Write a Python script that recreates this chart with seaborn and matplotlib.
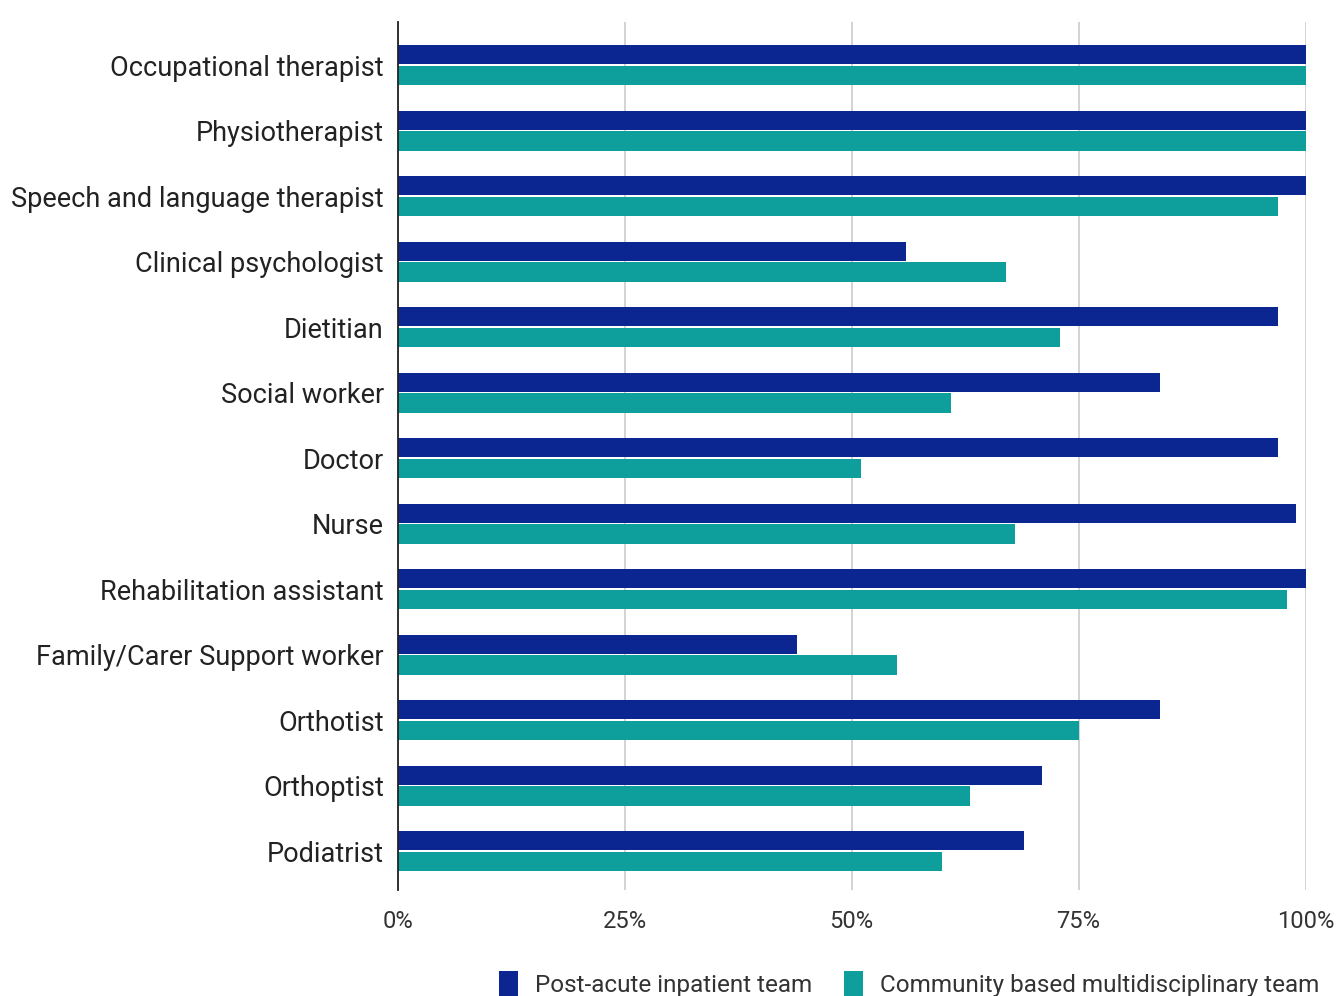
import matplotlib
matplotlib.use("Agg")
import matplotlib.pyplot as plt
import seaborn as sns
import pandas as pd
from matplotlib.ticker import FuncFormatter

roles = ["Occupational therapist", "Physiotherapist", "Speech and language therapist",
         "Clinical psychologist", "Dietitian", "Social worker", "Doctor", "Nurse",
         "Rehabilitation assistant", "Family/Carer Support worker", "Orthotist",
         "Orthoptist", "Podiatrist"]
inpatient = [100, 100, 100, 56, 97, 84, 97, 99, 100, 44, 84, 71, 69]
community = [100, 100, 97, 67, 73, 61, 51, 68, 98, 55, 75, 63, 60]
series = ["Post-acute inpatient team", "Community based multidisciplinary team"]
colors = ["#0b2591", "#0e9e9c"]
xticks = [0, 25, 50, 75, 100]

df = pd.DataFrame({
    "role": roles * 2,
    "value": inpatient + community,
    "team": [series[0]] * len(roles) + [series[1]] * len(roles),
})

sns.set_theme(style="white")
plt.rcParams["font.family"] = ["Roboto", "DejaVu Sans"]

fig = plt.figure(figsize=(13.39, 9.96), dpi=100)
ax = fig.add_axes([0.297, 0.106, 0.678, 0.872])

sns.barplot(data=df, y="role", x="value", hue="team", order=roles, hue_order=series,
            palette=colors, orient="h", width=0.64, gap=0.08, ax=ax, saturation=1,
            edgecolor="none")

ax.set_xlim(0, 100)
ax.set_ylim(12.6, -0.66)
ax.set_xticks(xticks)
ax.xaxis.set_major_formatter(FuncFormatter(lambda v, p: f"{int(v)}%"))
ax.grid(axis="x", color="#cccccc", linewidth=1.2)
ax.set_axisbelow(True)
for s in ["top", "right", "bottom"]:
    ax.spines[s].set_visible(False)
ax.spines["left"].set_color("#222222")
ax.spines["left"].set_linewidth(1.3)
ax.tick_params(axis="y", length=0, labelsize=19.5, labelcolor="#222222", pad=10)
ax.tick_params(axis="x", length=0, labelsize=17, labelcolor="#333333", pad=14)
ax.set_xlabel("")
ax.set_ylabel("")

handles, labels = ax.get_legend_handles_labels()
ax.legend_.remove()
fig.legend(handles, labels, loc="center", bbox_to_anchor=(0.679, 0.012), ncol=2,
           frameon=False, fontsize=17.5, handlelength=0.8, handleheight=1.2,
           columnspacing=1.3, handletextpad=0.7, labelcolor="#333333")

fig.savefig("out.png", dpi=100)
